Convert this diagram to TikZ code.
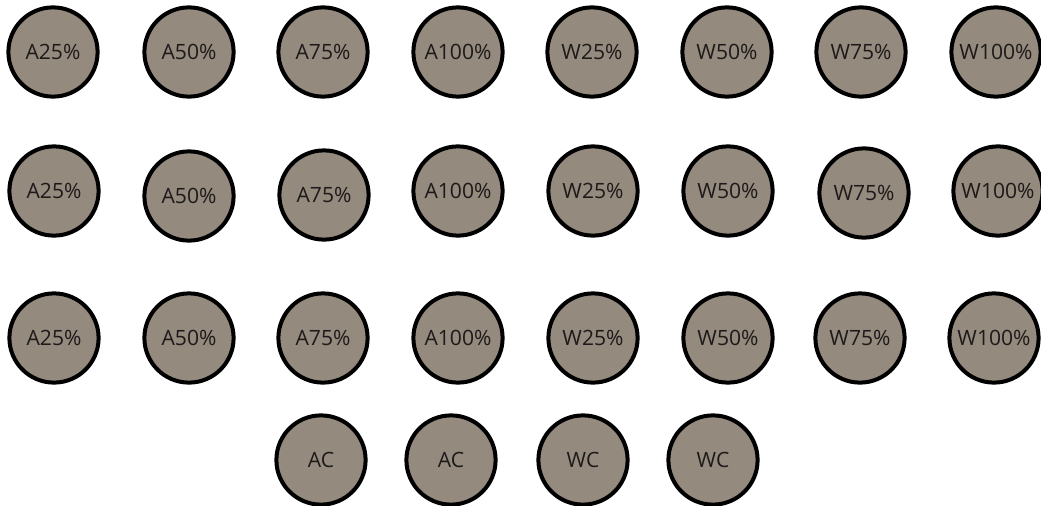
\documentclass[tikz,border=0pt]{standalone}
\usepackage{fontspec}
\setmainfont{Open Sans}
\definecolor{soil}{RGB}{148,138,126}
\definecolor{ink}{RGB}{30,26,26}

\begin{document}
\begin{tikzpicture}[
  x=0.025cm, y=-0.025cm,
  sample/.style={draw, circle, line width=1mm, fill=soil, text=ink,
    minimum size=22.3mm, inner sep=0pt, font=\fontsize{15}{18}\selectfont}
]
\useasboundingbox (0,0) rectangle (1041,506);

% top row
\foreach \x/\lab/\nm in {53/A25/a25, 189/A50/a50, 323/A75/a75, 458/A100/a100,
    592/W25/w25, 727/W50/w50, 861/W75/w75, 996/W100/w100}
  \node[sample] (\nm-top) at (\x,52) {\lab\%};

% middle row
\foreach \x/\y/\lab/\nm in {54/191/A25/a25, 189/196/A50/a50, 324/195/A75/a75,
    458/191/A100/a100, 593/191/W25/w25, 728/191/W50/w50, 864/193/W75/w75,
    998/191/W100/w100}
  \node[sample] (\nm-mid) at (\x,\y) {\lab\%};

% bottom row
\foreach \x/\lab/\nm in {54/A25/a25, 189/A50/a50, 323/A75/a75, 458/A100/a100,
    593/W25/w25, 728/W50/w50, 860/W75/w75, 994/W100/w100}
  \node[sample] (\nm-bot) at (\x,338) {\lab\%};

% controls
\node[sample] (ac-1) at (321,460) {AC};
\node[sample] (ac-2) at (451,460) {AC};
\node[sample] (wc-1) at (583,460) {WC};
\node[sample] (wc-2) at (713,460) {WC};
\end{tikzpicture}
\end{document}
